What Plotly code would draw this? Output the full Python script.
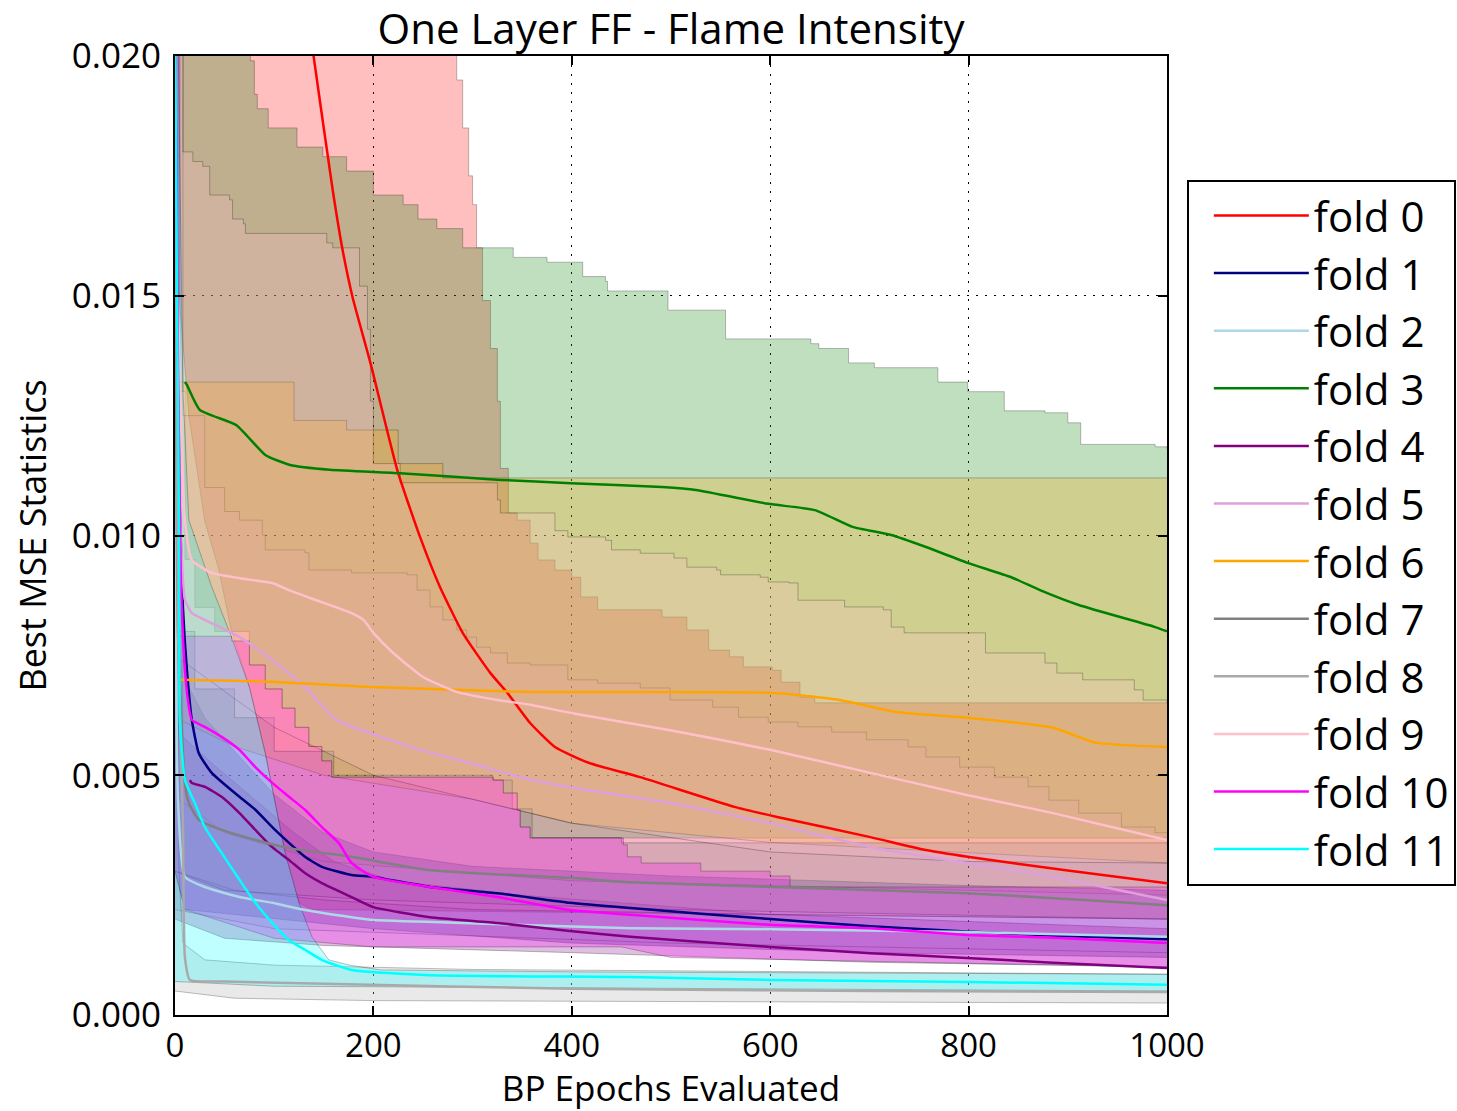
import plotly.graph_objects as go

# ---------------- mean lines (x = BP epochs, y = best MSE) ----------------
fold0_x = [125, 139, 159, 169, 179, 197, 224, 247, 267, 290, 318, 335, 358, 383, 417, 469, 564, 607, 701, 757, 799, 898, 1000]
fold0_y = [0.0222, 0.0201, 0.0172, 0.01595, 0.01497, 0.0136, 0.01137, 0.00997, 0.00893, 0.00797, 0.00713, 0.00672, 0.00609,
           0.00559, 0.00526, 0.00496, 0.00434, 0.00413, 0.00371, 0.00344, 0.00330, 0.00302, 0.00275]

fold1_x = [0, 3, 8, 12, 17, 24, 37, 65, 81, 98, 115, 131, 148, 178, 200, 257, 325, 398, 459, 600, 701, 798, 885, 1000]
fold1_y = [0.021, 0.012, 0.0085, 0.0072, 0.00615, 0.00546, 0.00505, 0.00455, 0.00428, 0.00392, 0.00359, 0.0033, 0.00309,
           0.00292, 0.00288, 0.00267, 0.00254, 0.00234, 0.00223, 0.00200, 0.00185, 0.00174, 0.00166, 0.00158]

fold2_x = [0, 3, 10, 30, 65, 98, 131, 178, 200, 290, 459, 600, 798, 1000]
fold2_y = [0.021, 0.0045, 0.00288, 0.00267, 0.00246, 0.00234, 0.00219, 0.00204, 0.00198, 0.00192, 0.00181, 0.00179, 0.00173, 0.00163]

fold3_x = [10, 12, 25, 62, 91, 116, 156, 227, 328, 399, 491, 525, 598, 645, 683, 722, 757, 799, 843, 872, 911, 988, 1000]
fold3_y = [0.0132, 0.01314, 0.01262, 0.01230, 0.01168, 0.01147, 0.01137, 0.01130, 0.01116, 0.01109, 0.01101, 0.01095, 0.01066,
           0.01053, 0.01018, 0.01001, 0.00976, 0.00943, 0.00913, 0.00886, 0.00855, 0.00809, 0.00800]

fold4_x = [15, 17, 30, 47, 65, 81, 98, 115, 131, 148, 178, 200, 257, 325, 398, 459, 600, 701, 798, 885, 1000]
fold4_y = [0.0049, 0.00484, 0.00476, 0.00455, 0.00421, 0.00386, 0.0035, 0.00323, 0.00296, 0.00275, 0.00246, 0.00225, 0.00204,
           0.00192, 0.00175, 0.00163, 0.00142, 0.00129, 0.00119, 0.00109, 0.00098]

fold5_x = [3, 10, 17, 30, 65, 98, 131, 163, 197, 247, 297, 348, 398, 459, 499, 600, 701, 798, 885, 1000]
fold5_y = [0.0120, 0.00866, 0.00838, 0.00824, 0.00788, 0.0074, 0.00684, 0.00615, 0.00588, 0.00553, 0.00526, 0.00496,
           0.00475, 0.00455, 0.00442, 0.00400, 0.00350, 0.00317, 0.00288, 0.00240]

fold6_x = [5, 96, 197, 230, 346, 600, 670, 727, 799, 885, 928, 1000]
fold6_y = [0.00699, 0.00695, 0.00684, 0.00682, 0.00674, 0.00672, 0.00657, 0.00632, 0.00620, 0.00599, 0.00568, 0.00559]

fold7_x = [0, 3, 10, 14, 24, 47, 81, 115, 178, 257, 398, 459, 600, 798, 1000]
fold7_y = [0.021, 0.008, 0.00484, 0.00442, 0.00407, 0.00386, 0.00365, 0.00348, 0.0033, 0.00302, 0.00286, 0.00277, 0.00267,
           0.00254, 0.00229]

fold8_x = [0, 3, 8, 10, 15, 50, 150, 400, 700, 1000]
fold8_y = [0.021, 0.008, 0.004, 0.0012, 0.00073, 0.0007, 0.00065, 0.00055, 0.0005, 0.00048]

fold9_x = [3, 10, 17, 37, 65, 98, 115, 141, 178, 190, 200, 220, 250, 284, 325, 358, 399, 499, 600, 701, 798, 885, 1000]
fold9_y = [0.0150, 0.01032, 0.00949, 0.00922, 0.00911, 0.00901, 0.00886, 0.00866, 0.00838, 0.00824, 0.00797, 0.00755,
           0.00705, 0.00674, 0.00657, 0.00647, 0.0063, 0.00594, 0.00553, 0.00505, 0.00459, 0.00421, 0.00365]

fold10_x = [0, 3, 6, 10, 14, 17, 30, 47, 65, 81, 98, 115, 131, 148, 165, 178, 200, 257, 325, 398, 459, 600, 701, 798, 885, 1000]
fold10_y = [0.021, 0.0135, 0.0090, 0.0072, 0.00642, 0.00615, 0.00601, 0.0058, 0.00553, 0.00517, 0.00484, 0.00455, 0.00428,
            0.00392, 0.00359, 0.00317, 0.00288, 0.00267, 0.00246, 0.00219, 0.00209, 0.00188, 0.00181, 0.00167, 0.00161, 0.0015]

fold11_x = [0, 2, 4, 5, 10, 20, 30, 47, 65, 81, 98, 115, 131, 148, 178, 257, 459, 600, 798, 1000]
fold11_y = [0.021, 0.015, 0.0103, 0.00615, 0.0049, 0.00442, 0.00392, 0.00338, 0.00282, 0.00234, 0.00192, 0.00156, 0.00136,
            0.00115, 0.00094, 0.00083, 0.00079, 0.00073, 0.00069, 0.00063]

# ---------------- min / max bands: (x, value) change points ----------------
fold0_hi_x = [0, 284, 290, 296, 300, 304, 310, 318, 325, 328, 336, 345, 358, 366, 383, 400, 409, 426, 491, 516, 538, 559, 573, 602, 611, 630, 645, 1000]
fold0_hi_y = [0.025, 0.0195, 0.0185, 0.0175, 0.0169, 0.0160, 0.0149, 0.0139, 0.0128, 0.0114, 0.01047, 0.01032, 0.00984, 0.00949,
              0.00928, 0.00913, 0.00872, 0.00845, 0.00830, 0.00803, 0.00761, 0.00747, 0.00726, 0.00719, 0.00694, 0.00663, 0.00651, 0.00651]
fold0_lo_x = [0, 14, 30, 44, 57, 75, 91, 101, 111, 125, 138, 1000]
fold0_lo_y = [0.0160, 0.0125, 0.0103, 0.0093, 0.0080, 0.00684, 0.00546, 0.00442, 0.00338, 0.00234, 0.0022, 0.0020]

fold3_hi_x = [0, 76, 80, 83, 94, 123, 149, 173, 200, 230, 245, 264, 290, 341, 375, 411, 434, 436, 497, 555, 641, 649, 679, 705,
              769, 799, 836, 877, 900, 913, 988, 1000]
fold3_hi_y = [0.025, 0.0199, 0.0192, 0.0189, 0.0185, 0.0181, 0.0179, 0.0176, 0.0171, 0.0169, 0.0166, 0.0164, 0.0160, 0.0158,
              0.0157, 0.0154, 0.0153, 0.0151, 0.0147, 0.0141, 0.0140, 0.0139, 0.0136, 0.0135, 0.0132, 0.0130, 0.0126, 0.01256,
              0.01235, 0.0119, 0.01185, 0.0118]
fold3_lo_x = [0, 10, 20, 40, 57, 75, 91, 108, 121, 135, 148, 158, 321, 331, 345, 348, 358, 1000]
fold3_lo_y = [0.0130, 0.0095, 0.0085, 0.0080, 0.0080, 0.0073, 0.0068, 0.0064, 0.0060, 0.0056, 0.0053, 0.00496, 0.0049,
              0.00463, 0.00428, 0.00392, 0.00369, 0.00360]

fold9_hi_x = [0, 8, 18, 28, 35, 55, 58, 69, 71, 139, 153, 159, 186, 194, 197, 200, 227, 325, 328, 383, 396, 434, 440, 469, 503,
              516, 546, 550, 590, 598, 619, 628, 670, 675, 714, 722, 735, 817, 877, 889, 915, 967, 976, 1000]
fold9_hi_y = [0.025, 0.0180, 0.0178, 0.0177, 0.0171, 0.0170, 0.0166, 0.0165, 0.0163, 0.0163, 0.0161, 0.0160, 0.0152, 0.0143,
              0.0128, 0.0115, 0.0111, 0.01074, 0.01047, 0.0101, 0.00997, 0.0099, 0.0097, 0.00963, 0.00953, 0.00934, 0.00928,
              0.00918, 0.00913, 0.00903, 0.00901, 0.00865, 0.00865, 0.00851, 0.00845, 0.00809, 0.00797, 0.00755, 0.00734,
              0.00713, 0.00699, 0.00678, 0.00657, 0.00651]
fold9_lo_x = [0, 100, 200, 400, 600, 800, 1000]
fold9_lo_y = [0.0075, 0.0060, 0.0050, 0.0040, 0.0034, 0.0032, 0.00317]

fold6_hi_x = [0, 120, 173, 225, 270, 1000]
fold6_hi_y = [0.0132, 0.0124, 0.0122, 0.0115, 0.0112, 0.0112]
fold6_lo_x = [0, 60, 150, 300, 400, 600, 1000]
fold6_lo_y = [0.0062, 0.0056, 0.0050, 0.0045, 0.0040, 0.0036, 0.00317]

fold10_hi_x = [0, 5, 57, 75, 91, 108, 121, 135, 148, 158, 321, 331, 345, 348, 358, 452, 456, 470, 530, 600, 620, 1000]
fold10_hi_y = [0.025, 0.0079, 0.0078, 0.0073, 0.0068, 0.0064, 0.0060, 0.0056, 0.0053, 0.00496,
               0.0049, 0.00463, 0.00428, 0.00392, 0.00369, 0.00355, 0.0033, 0.00317, 0.0030, 0.0029, 0.00267, 0.00267]
fold10_lo_x = [0, 10, 100, 200, 450, 500, 700, 1000]
fold10_lo_y = [0.0030, 0.0022, 0.0016, 0.00142, 0.00142, 0.00120, 0.00112, 0.00100]

fold1_hi_x = [0, 4, 10, 30, 60, 100, 150, 200, 300, 500, 800, 1000]
fold1_hi_y = [0.025, 0.0090, 0.0070, 0.0062, 0.0055, 0.0046, 0.0038, 0.0034, 0.0031, 0.0029, 0.0027, 0.0026]
fold1_lo_x = [0, 10, 200, 400, 700, 1000]
fold1_lo_y = [0.0030, 0.0022, 0.0018, 0.0015, 0.0013, 0.0012]

fold4_hi_x = [0, 8, 40, 80, 120, 160, 220, 350, 600, 1000]
fold4_hi_y = [0.025, 0.0058, 0.0052, 0.0045, 0.0038, 0.0032, 0.0028, 0.0025, 0.0021, 0.0018]
fold4_lo_x = [0, 50, 150, 400, 700, 1000]
fold4_lo_y = [0.0020, 0.0016, 0.00145, 0.0013, 0.0011, 0.0010]

fold2_hi_x = [0, 4, 50, 150, 400, 1000]
fold2_hi_y = [0.025, 0.0045, 0.0038, 0.0032, 0.0028, 0.0025]
fold2_lo_x = [0, 100, 500, 1000]
fold2_lo_y = [0.0022, 0.0018, 0.0015, 0.0013]

fold5_hi_x = [0, 8, 30, 50, 65, 88, 91, 131, 135, 178, 234, 244, 257, 270, 284, 294, 304, 318, 335, 358, 396, 426, 469, 499,
              542, 568, 598, 628, 662, 697, 739, 757, 791, 826, 860, 881, 911, 954, 988, 1000]
fold5_hi_y = [0.025, 0.0125, 0.0110, 0.0105, 0.01032, 0.01001, 0.0097, 0.00964, 0.00928, 0.00922, 0.00918, 0.00886, 0.00851,
              0.00824, 0.00803, 0.00788, 0.00767, 0.00755, 0.00734, 0.00730, 0.00699, 0.00692, 0.00682, 0.00657, 0.00642,
              0.00621, 0.00611, 0.00601, 0.00590, 0.00574, 0.00559, 0.00538, 0.00517, 0.00496, 0.00476, 0.00448, 0.00421,
              0.00392, 0.00380, 0.00380]
fold5_lo_x = [0, 60, 150, 300, 600, 1000]
fold5_lo_y = [0.0030, 0.0026, 0.0024, 0.0022, 0.0021, 0.0020]

fold7_hi_x = [0, 4, 20, 60, 100, 160, 320, 340, 360, 450, 1000]
fold7_hi_y = [0.025, 0.0080, 0.0068, 0.0062, 0.0055, 0.0050, 0.0049, 0.0043, 0.0037, 0.00359, 0.00355]
fold7_lo_x = [0, 50, 200, 500, 1000]
fold7_lo_y = [0.0030, 0.0026, 0.0024, 0.0022, 0.0020]

fold8_hi_x = [0, 4, 8, 30, 100, 300, 1000]
fold8_hi_y = [0.025, 0.0030, 0.0015, 0.00115, 0.00104, 0.00095, 0.00085]
fold8_lo_x = [0, 60, 200, 1000]
fold8_lo_y = [0.0005, 0.00035, 0.0003, 0.00025]

fold11_hi_x = [0, 8, 14, 37, 57, 75, 91, 101, 111, 125, 138, 155, 176, 207, 400, 1000]
fold11_hi_y = [0.025, 0.0130, 0.01032, 0.00893, 0.00788, 0.00684, 0.00546, 0.00442, 0.00338, 0.00234, 0.00163, 0.00115,
               0.00104, 0.00094, 0.0009, 0.00085]
fold11_lo_x = [0, 100, 1000]
fold11_lo_y = [0.0007, 0.0006, 0.0005]

labels = ["fold %d" % i for i in range(12)]
colors = ["#ff0000", "#000080", "#add8e6", "#008000", "#800080", "#dda0dd",
          "#ffa500", "#808080", "#a9a9a9", "#ffc0cb", "#ff00ff", "#00ffff"]

means = [(fold0_x, fold0_y), (fold1_x, fold1_y), (fold2_x, fold2_y), (fold3_x, fold3_y),
         (fold4_x, fold4_y), (fold5_x, fold5_y), (fold6_x, fold6_y), (fold7_x, fold7_y),
         (fold8_x, fold8_y), (fold9_x, fold9_y), (fold10_x, fold10_y), (fold11_x, fold11_y)]

bands = [
    (fold0_lo_x, fold0_lo_y, fold0_hi_x, fold0_hi_y, "linear", "hv"),
    (fold1_lo_x, fold1_lo_y, fold1_hi_x, fold1_hi_y, "linear", "linear"),
    (fold2_lo_x, fold2_lo_y, fold2_hi_x, fold2_hi_y, "linear", "linear"),
    (fold3_lo_x, fold3_lo_y, fold3_hi_x, fold3_hi_y, "hv", "hv"),
    (fold4_lo_x, fold4_lo_y, fold4_hi_x, fold4_hi_y, "linear", "linear"),
    (fold5_lo_x, fold5_lo_y, fold5_hi_x, fold5_hi_y, "linear", "hv"),
    (fold6_lo_x, fold6_lo_y, fold6_hi_x, fold6_hi_y, "linear", "hv"),
    (fold7_lo_x, fold7_lo_y, fold7_hi_x, fold7_hi_y, "linear", "hv"),
    (fold8_lo_x, fold8_lo_y, fold8_hi_x, fold8_hi_y, "linear", "linear"),
    (fold9_lo_x, fold9_lo_y, fold9_hi_x, fold9_hi_y, "linear", "hv"),
    (fold10_lo_x, fold10_lo_y, fold10_hi_x, fold10_hi_y, "linear", "hv"),
    (fold11_lo_x, fold11_lo_y, fold11_hi_x, fold11_hi_y, "linear", "linear"),
]


def rgba(hexc, a):
    h = hexc.lstrip("#")
    r, g, b = int(h[0:2], 16), int(h[2:4], 16), int(h[4:6], 16)
    return "rgba(%d,%d,%d,%.3f)" % (r, g, b, a)


fig = go.Figure()
edge = dict(color="rgba(0,0,0,0.25)", width=1)

for i, (lx, ly, hx, hy, lshape, hshape) in enumerate(bands):
    fig.add_trace(go.Scatter(x=lx, y=ly, mode="lines", line=dict(edge, shape=lshape),
                             showlegend=False, hoverinfo="skip"))
    fig.add_trace(go.Scatter(x=hx, y=hy, mode="lines", line=dict(edge, shape=hshape),
                             fill="tonexty", fillcolor=rgba(colors[i], 0.25),
                             showlegend=False, hoverinfo="skip"))

for i, (mx, my) in enumerate(means):
    fig.add_trace(go.Scatter(x=mx, y=my, mode="lines", name=labels[i],
                             line=dict(color=colors[i], width=2.5, shape="spline", smoothing=0.5),
                             legendgroup=labels[i]))

FONT = "Open Sans"
axis_common = dict(showline=True, linecolor="black", linewidth=2, mirror="ticks",
                   ticks="inside", ticklen=9, tickwidth=1.5, tickcolor="black",
                   showgrid=True, gridcolor="black", gridwidth=1.2, griddash="2px,7px",
                   zeroline=False)

fig.update_xaxes(range=[0, 1000], tickvals=[0, 200, 400, 600, 800, 1000],
                 tickfont=dict(family=FONT, size=33, color="black"),
                 title=dict(text="BP Epochs Evaluated", font=dict(family=FONT, size=35), standoff=17), **axis_common)
fig.update_yaxes(range=[0, 0.020], tickvals=[0, 0.005, 0.010, 0.015, 0.020],
                 ticktext=["0.000", "0.005", "0.010", "0.015", "0.020"],
                 tickfont=dict(family=FONT, size=35, color="black"), ticklabelstandoff=5,
                 title=dict(text="Best MSE Statistics", font=dict(family=FONT, size=36), standoff=14), **axis_common)

fig.update_layout(
    width=1457, height=1111,
    margin=dict(l=175, r=290, t=56, b=96, autoexpand=False),
    plot_bgcolor="white", paper_bgcolor="white",
    font=dict(family=FONT, color="black"),
    title=dict(text="One Layer FF - Flame Intensity", font=dict(family=FONT, size=42, color="black"),
               x=0.5, xref="paper", xanchor="center", y=0.974, yref="container", yanchor="middle"),
    legend=dict(x=1.020, y=0.871, xanchor="left", yanchor="top", bordercolor="black", borderwidth=2,
                font=dict(family=FONT, size=42, color="black"), itemwidth=95, tracegroupgap=0,
                indentation=20, bgcolor="white", traceorder="grouped"),
    showlegend=True,
)

fig.write_html("out.html")
